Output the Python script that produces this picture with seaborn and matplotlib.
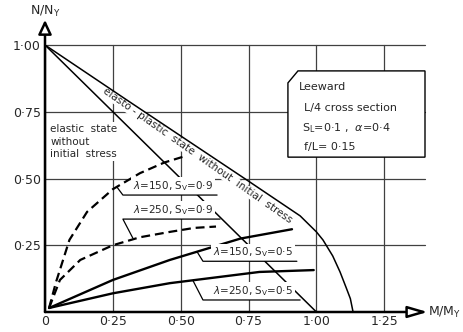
import matplotlib
matplotlib.use('Agg')
import matplotlib.pyplot as plt
import seaborn as sns
from matplotlib.patches import Polygon

# Curves (M/My, N/Ny)
ep_m = [0.0, 0.30, 0.75, 0.94, 1.00, 1.024, 1.06, 1.087, 1.11, 1.125, 1.135]
ep_n = [1.00, 0.795, 0.49, 0.36, 0.30, 0.27, 0.21, 0.15, 0.09, 0.05, 0.0]

el_m = [0.0, 1.0]
el_n = [1.0, 0.0]

l150_09_m = [0.015, 0.04, 0.09, 0.155, 0.25, 0.35, 0.44, 0.52]
l150_09_n = [0.015, 0.11, 0.27, 0.375, 0.46, 0.52, 0.56, 0.585]

l250_09_m = [0.015, 0.055, 0.13, 0.25, 0.35, 0.46, 0.55, 0.63]
l250_09_n = [0.015, 0.12, 0.195, 0.25, 0.28, 0.30, 0.315, 0.32]

l150_05_m = [0.015, 0.25, 0.46, 0.72, 0.91]
l150_05_n = [0.015, 0.12, 0.195, 0.275, 0.31]

l250_05_m = [0.015, 0.25, 0.46, 0.79, 0.99]
l250_05_n = [0.015, 0.07, 0.108, 0.15, 0.157]

x_ticks = [0, 0.25, 0.50, 0.75, 1.00, 1.25]
x_labels = ['0', '0·25', '0·50', '0·75', '1·00', '1·25']
y_ticks = [0.25, 0.50, 0.75, 1.00]
y_labels = ['0·25', '0·50', '0·75', '1·00']

# label text, text x, underline y, underline end x, leader target (m, n)
curve_labels = [
    (r'$\lambda$=150, S$_\mathrm{V}$=0·9', 0.324, 0.438, 0.634, (0.265, 0.468)),
    (r'$\lambda$=250, S$_\mathrm{V}$=0·9', 0.324, 0.348, 0.645, (0.324, 0.276)),
    (r'$\lambda$=150, S$_\mathrm{V}$=0·5', 0.619, 0.190, 0.928, (0.560, 0.226)),
    (r'$\lambda$=250, S$_\mathrm{V}$=0·5', 0.619, 0.045, 0.940, (0.545, 0.118)),
]

sns.set_style('white')
plt.rcParams['font.family'] = ['DejaVu Sans']
plt.rcParams['mathtext.fontset'] = 'dejavusans'

fig = plt.figure(figsize=(4.63, 3.32), dpi=100)
ax = fig.add_axes([45 / 463, 20 / 332, 380 / 463, 267 / 332])
ax.set_xlim(0, 1.40)
ax.set_ylim(0, 1.0)
for s in ax.spines.values():
    s.set_visible(False)

ax.set_xticks(x_ticks)
ax.set_xticklabels(x_labels, fontsize=9)
ax.set_yticks(y_ticks)
ax.set_yticklabels(y_labels, fontsize=9)
ax.tick_params(length=0)
ax.tick_params(axis='x', pad=2.5)
ax.tick_params(axis='y', pad=3)
ax.grid(True, color='0.25', lw=0.9)
for gl in ax.get_xgridlines() + ax.get_ygridlines():
    gl.set_clip_on(False)
ax.set_axisbelow(True)

# curves
sns.lineplot(x=ep_m, y=ep_n, ax=ax, color='black', lw=1.1, sort=False, estimator=None, zorder=3)
sns.lineplot(x=el_m, y=el_n, ax=ax, color='black', lw=1.1, sort=False, estimator=None, zorder=2)
for m, n in [(l150_09_m, l150_09_n), (l250_09_m, l250_09_n)]:
    sns.lineplot(x=m, y=n, ax=ax, color='black', lw=1.6, sort=False, estimator=None,
                 dashes=False, linestyle=(0, (4, 2.2)), zorder=3)
for m, n in [(l150_05_m, l150_05_n), (l250_05_m, l250_05_n)]:
    sns.lineplot(x=m, y=n, ax=ax, color='black', lw=1.7, sort=False, estimator=None, zorder=3)

# labels on curves
for txt, tx, uy, ux, (cm, cn) in curve_labels:
    x0 = tx - 0.037
    ax.text(tx, uy + 0.008, txt, fontsize=7.5, ha='left', va='bottom', zorder=4,
            bbox=dict(fc='white', ec='none', pad=1.2))
    ax.plot([cm, x0, ux], [cn, uy, uy], color='black', lw=0.9, zorder=5)

ax.text(0.56, 0.585, 'elasto - plastic  state  without  initial  stress', fontsize=7.5,
        rotation=-35, rotation_mode='anchor', ha='center', va='center', zorder=2.5,
        bbox=dict(fc='white', ec='none', pad=0.3))
ax.text(0.02, 0.705, 'elastic  state\nwithout\ninitial  stress', fontsize=7.5,
        ha='left', va='top', linespacing=1.35, zorder=2.5,
        bbox=dict(fc='white', ec='none', pad=1.0))

# info box
box = Polygon([(0.895, 0.58), (0.895, 0.858), (0.932, 0.903), (1.40, 0.903), (1.40, 0.58)],
              closed=True, fc='white', ec='black', lw=1.0, zorder=4, clip_on=False)
ax.add_patch(box)
ax.text(0.935, 0.843, 'Leeward', fontsize=8, va='center', zorder=5)
ax.text(0.955, 0.764, 'L/4 cross section', fontsize=8, va='center', zorder=5)
ax.text(0.948, 0.689, r'S$_\mathrm{L}$=0·1 ,  $\alpha$=0·4', fontsize=8, va='center', zorder=5)
ax.text(0.955, 0.618, 'f/L= 0·15', fontsize=8, va='center', zorder=5)

# axes with open arrow heads
ax.annotate('', xy=(0, 1.094), xytext=(0, 0), annotation_clip=False,
            arrowprops=dict(arrowstyle='-|>,head_length=0.85,head_width=0.4', fc='white',
                            ec='black', lw=1.8, shrinkA=0, shrinkB=0, clip_on=False))
ax.annotate('', xy=(1.41, 0), xytext=(0, 0), annotation_clip=False,
            arrowprops=dict(arrowstyle='-|>,head_length=1.2,head_width=0.35', fc='white',
                            ec='black', lw=1.8, shrinkA=0, shrinkB=0, clip_on=False))
ax.text(0, 1.124, r'N/N$_\mathrm{Y}$', fontsize=9, ha='center', va='center')
ax.text(1.412, 0.0, r'M/M$_\mathrm{Y}$', fontsize=9, ha='left', va='center')

plt.savefig('out.png', dpi=100)
